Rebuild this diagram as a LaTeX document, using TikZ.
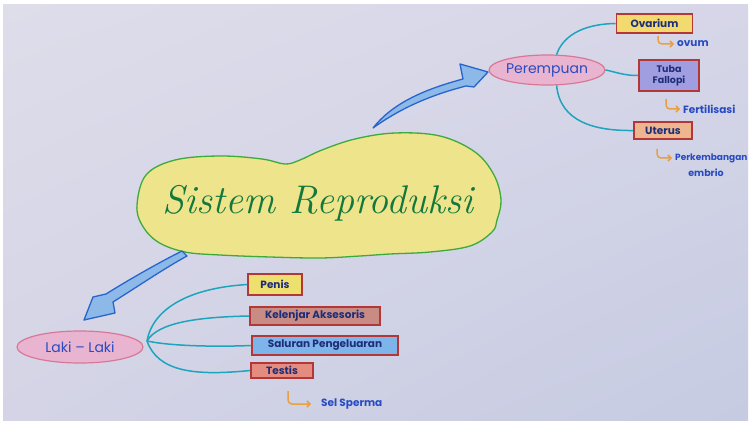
\documentclass[tikz,border=0pt]{standalone}
\usepackage{fontspec}
\newfontfamily\hand{Poppins}
\usetikzlibrary{shapes.geometric,arrows.meta,shadings}
\definecolor{bgA}{RGB}{222,221,234}
\definecolor{bgB}{RGB}{214,214,232}
\definecolor{bgC}{RGB}{212,212,230}
\definecolor{bgD}{RGB}{198,203,226}
\definecolor{blobfill}{RGB}{238,228,140}
\definecolor{blobline}{RGB}{60,170,60}
\definecolor{titlegreen}{RGB}{20,120,60}
\definecolor{arrfill}{RGB}{140,185,232}
\definecolor{arrline}{RGB}{40,100,205}
\definecolor{pinkfill}{RGB}{232,180,208}
\definecolor{pinkline}{RGB}{216,120,150}
\definecolor{tealline}{RGB}{30,165,190}
\definecolor{boxline}{RGB}{180,55,55}
\definecolor{boxtext}{RGB}{30,45,120}
\definecolor{labblue}{RGB}{40,75,195}
\definecolor{hookorange}{RGB}{232,160,64}
\definecolor{ovfill}{RGB}{242,218,110}
\definecolor{tubafill}{RGB}{160,158,224}
\definecolor{utfill}{RGB}{238,182,142}
\definecolor{penfill}{RGB}{238,224,110}
\definecolor{kelfill}{RGB}{200,140,132}
\definecolor{salfill}{RGB}{125,180,234}
\definecolor{tesfill}{RGB}{228,140,128}
\tikzset{
  blob/.style={fill=blobfill, draw=blobline, line width=1.3pt},
  bigarrow/.style={fill=arrfill, draw=arrline, line width=1.3pt, line join=round},
  pinkell/.style={ellipse, fill=pinkfill, draw=pinkline, line width=1.2pt, inner sep=0pt,
    text=labblue, font=\hand\fontsize{14}{16}\selectfont},
  box/.style={rectangle, draw=boxline, line width=1.6pt, inner sep=0pt, text=boxtext,
    font=\hand\bfseries\fontsize{10.5}{12}\selectfont, align=center},
  sub/.style={text=labblue, inner sep=0pt, font=\hand\bfseries\fontsize{10.5}{12}\selectfont},
  conn/.style={draw=tealline, line width=1.5pt},
  hook/.style={draw=hookorange, line width=1.5pt, rounded corners=4pt, -{Straight Barb[length=3pt,width=6pt]}}
}
\begin{document}
\begin{tikzpicture}[x=1pt,y=-1pt]
\useasboundingbox (0,0) rectangle (751,422);
\fill[white] (0,0) rectangle (751,422);
\shade[upper left=bgA, upper right=bgB, lower left=bgC, lower right=bgD] (3,5) rectangle (748,420);

% central blob
\draw[blob] plot[smooth cycle, tension=0.6] coordinates {
  (137,205) (146,175) (175,160) (220,156) (262,159) (285,164) (300,160)
  (322,150) (355,139) (395,133) (440,136) (475,152) (494,175) (501,200)
  (497,220) (492,232) (470,246) (430,252) (390,254) (360,256) (320,258)
  (270,257) (220,255) (185,252) (158,242) (142,225)};
\node[font=\fontsize{40}{46}\selectfont\itshape, text=titlegreen] (title) at (318,203) {Sistem Reproduksi};

% big arrows
\draw[bigarrow] (373,128) .. controls (392,104) and (422,90) .. (463,79)
  -- (460,64) -- (488,72) -- (474,87) -- (466,86)
  .. controls (427,96) and (398,110) .. cycle;
\draw[bigarrow] (182,251) .. controls (160,262) and (130,279) .. (106,294)
  -- (93,297) -- (84,320) -- (115,313) -- (113,302)
  .. controls (140,285) and (165,268) .. (187,256) -- cycle;

% Perempuan branch
\node[pinkell, minimum width=100pt, minimum height=30pt] (per) at (547,70) {Perempuan};
\node[box, fill=ovfill, minimum width=76pt, minimum height=19pt] (ov) at (654.5,23.5) {Ovarium};
\node[box, fill=tubafill, minimum width=60pt, minimum height=31pt, font=\hand\bfseries\fontsize{9.5}{11.5}\selectfont] (tuba) at (669,75.5) {Tuba\\Fallopi};
\node[box, fill=utfill, minimum width=58pt, minimum height=17pt] (ut) at (663,130.5) {Uterus};
\draw[conn] (per.58) .. controls (562,38) and (580,24) .. (ov.west);
\draw[conn] (per.east) .. controls (612,71) and (625,76) .. (tuba.west);
\draw[conn] (per.-58) .. controls (560,122) and (595,131) .. (ut.west);

\node[sub, anchor=west] (ovum) at (677,44) {ovum};
\coordinate (h1) at (658,36);
\draw[hook] (h1) |- ([xshift=-3pt]ovum.west);
\node[sub, anchor=west] (fert) at (683,109) {Fertilisasi};
\coordinate (h2) at (666,99);
\draw[hook] (h2) |- ([xshift=-3pt]fert.west);
\node[sub, anchor=west, font=\hand\bfseries\fontsize{9}{11}\selectfont] (perk) at (675,158) {Perkembangan};
\node[sub, font=\hand\bfseries\fontsize{9.5}{11}\selectfont] (emb) at (706,173) {embrio};
\coordinate (h3) at (657,149);
\draw[hook] (h3) |- ([xshift=-3pt]perk.west);

% Laki-laki branch
\node[pinkell, minimum width=126pt, minimum height=32pt] (laki) at (80,347) {Laki – Laki};
\coordinate (hub) at (147,341);
\node[box, fill=penfill, minimum width=54pt, minimum height=21pt] (pen) at (275,284.5) {Penis};
\node[box, fill=kelfill, minimum width=130pt, minimum height=18pt] (kel) at (315,316) {Kelenjar Aksesoris};
\node[box, fill=salfill, minimum width=146pt, minimum height=19pt] (sal) at (325,345.5) {Saluran Pengeluaran};
\node[box, fill=tesfill, minimum width=62pt, minimum height=15pt] (tes) at (282,370.5) {Testis};
\draw[conn] (hub) .. controls (153,308) and (190,288) .. (pen.west);
\draw[conn] (hub) .. controls (158,322) and (200,317) .. (kel.west);
\draw[conn] (hub) .. controls (170,346) and (215,347) .. (sal.west);
\draw[conn] (hub) .. controls (158,372) and (195,376) .. (tes.west);

\node[sub, anchor=west] (sperm) at (321,404) {Sel Sperma};
\coordinate (h4) at (288,391);
\draw[hook] (h4) |- ([xshift=-10pt]sperm.west);
\end{tikzpicture}
\end{document}
